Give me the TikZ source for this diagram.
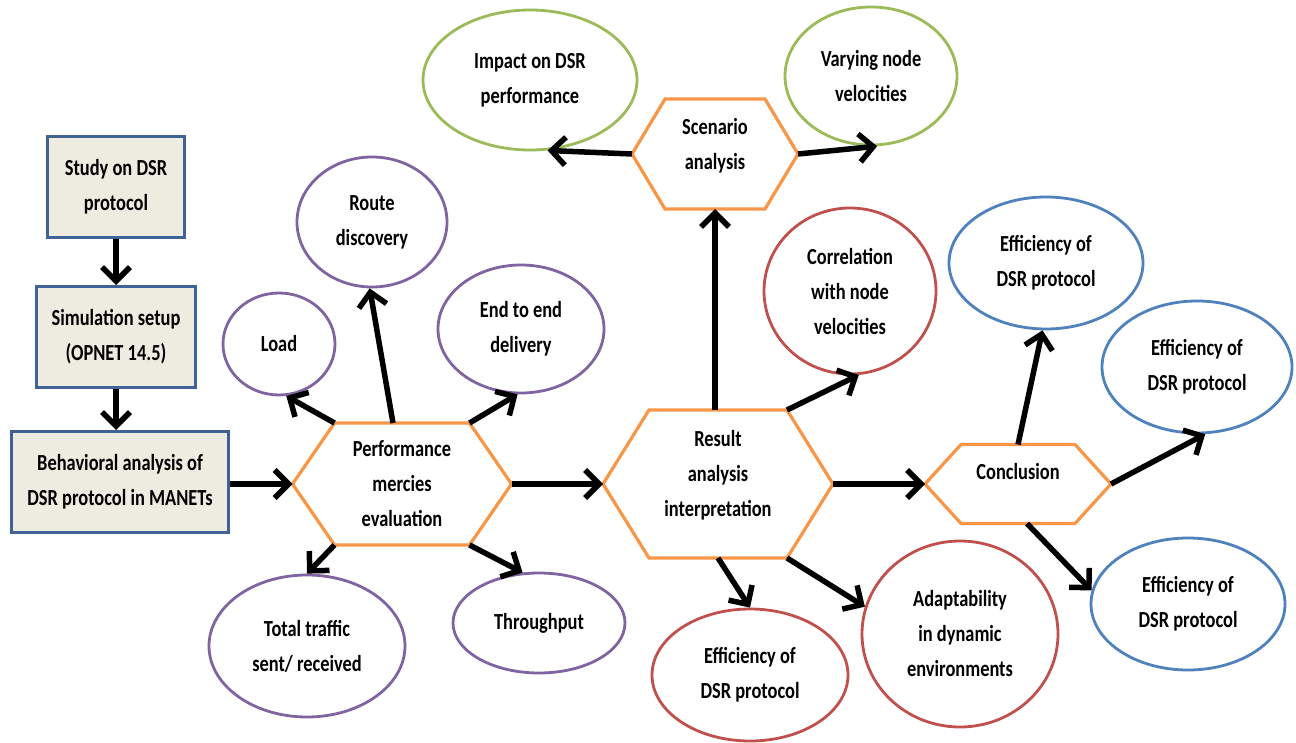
\documentclass[tikz,border=0pt]{standalone}
\usepackage{fontspec}
\setmainfont{Carlito}[FakeStretch=0.8]
\usepackage{tikz}
\usetikzlibrary{positioning,shapes.geometric,arrows.meta}

\definecolor{boxfill}{RGB}{238,236,225}
\definecolor{boxline}{RGB}{64,98,148}
\definecolor{hexorange}{RGB}{247,150,70}
\definecolor{cpurple}{RGB}{128,100,162}
\definecolor{cgreen}{RGB}{155,187,89}
\definecolor{cred}{RGB}{192,80,77}
\definecolor{cblue}{RGB}{79,129,189}

% hexagon round a named node: #1 node, #2 corner inset
\newcommand{\hexpath}[2]{\draw[hexline] (#1.west) -- ([xshift=#2]#1.north west) -- ([xshift=-#2]#1.north east) -- (#1.east) -- ([xshift=-#2]#1.south east) -- ([xshift=#2]#1.south west) -- cycle;}

\begin{document}
\begin{tikzpicture}[x=1pt, y=-1pt, font=\fontsize{23}{35}\selectfont\bfseries,
    box/.style = {rectangle, draw=boxline, fill=boxfill, line width=3pt, align=center, minimum height=101pt},
    hexa/.style = {rectangle, outer sep=0pt, inner sep=0pt, align=center},
    hexline/.style = {draw=hexorange, line width=3.2pt, line join=miter},
    bubble/.style = {ellipse, draw=#1, line width=2.8pt, align=center, inner sep=0pt},
    arr/.style = {-{Straight Barb[length=14pt,width=28pt]}, line width=5.5pt}]

    \path[use as bounding box, fill=white] (0,0) rectangle (1296,743);

    % left column
    \node[box, minimum width=137pt] (study) at (116,187) {Study on DSR\\protocol};
    \node[box, minimum width=159pt] (setup) [below=46pt of study] {Simulation setup\\(OPNET 14.5)};
    \node[box, minimum width=217pt] (behav) [below=41pt of setup, xshift=4pt] {Behavioral analysis of\\DSR protocol in MANETs};

    % hexagons
    \node[hexa, minimum width=219pt, minimum height=122pt] (perf) at (402,484) {Performance\\mercies\\evaluation};
    \hexpath{perf}{42pt}
    \node[hexa, minimum width=230pt, minimum height=148pt, label={[align=center, yshift=9pt]center:Result\\analysis\\interpretation}] (result) at (718,484) {};
    \hexpath{result}{46pt}
    \node[hexa, minimum width=166pt, minimum height=110pt, label={[align=center, yshift=8pt]center:Scenario\\analysis}] (scen) at (715,154) {};
    \hexpath{scen}{33pt}
    \node[hexa, minimum width=186pt, minimum height=79pt, label={[yshift=12pt]center:Conclusion}] (concl) at (1018,484) {};
    \hexpath{concl}{36pt}

    % metrics
    \node[bubble=cpurple, minimum width=112pt, minimum height=102pt] (load) at (279,344) {Load};
    \node[bubble=cpurple, minimum width=150pt, minimum height=130pt] (route) at (372,222) {Route\\discovery};
    \node[bubble=cpurple, minimum width=166pt, minimum height=128pt] (delay) at (521,329) {End to end\\delivery};
    \node[bubble=cpurple, minimum width=196pt, minimum height=142pt] (traffic) at (307,646) {Total traffic\\sent/ received};
    \node[bubble=cpurple, minimum width=172pt, minimum height=100pt] (thru) at (539,623) {Throughput};

    % scenario
    \node[bubble=cgreen, minimum width=214pt, minimum height=140pt] (impact) at (530,80) {Impact on DSR\\performance};
    \node[bubble=cgreen, minimum width=172pt, minimum height=138pt] (vary) at (871,76) {Varying node\\velocities};

    % results
    \node[bubble=cred, minimum width=172pt, minimum height=166pt] (corr) at (850,291) {Correlation\\with node\\velocities};
    \node[bubble=cred, minimum width=196pt, minimum height=132pt] (effr) at (750,675) {Efficiency of\\DSR protocol};
    \node[bubble=cred, minimum width=196pt, minimum height=186pt] (adapt) at (960,634) {Adaptability\\in dynamic\\environments};

    % conclusion
    \node[bubble=cblue, minimum width=194pt, minimum height=132pt] (effa) at (1046,263) {Efficiency of\\DSR protocol};
    \node[bubble=cblue, minimum width=190pt, minimum height=132pt] (effb) at (1197,367) {Efficiency of\\DSR protocol};
    \node[bubble=cblue, minimum width=194pt, minimum height=132pt] (effc) at (1188,604) {Efficiency of\\DSR protocol};

    % arrows
    \draw[arr] (study) -- (setup);
    \draw[arr] (setup.south) -- (setup.south |- behav.north);
    \draw[arr] (behav.east |- perf.west) -- (perf.west);
    \draw[arr] (perf.east) -- (result.west);
    \draw[arr] (result.east) -- (concl.west);

    \draw[arr] ([xshift=42pt]perf.north west) -- (load.278);
    \draw[arr] ([xshift=-9pt]perf.north) -- (route.268);
    \draw[arr] ([xshift=-42pt]perf.north east) -- (delay.267);
    \draw[arr] ([xshift=42pt]perf.south west) -- (traffic.90);
    \draw[arr] ([xshift=-42pt]perf.south east) -- (thru.108);

    \draw[arr] (scen.south |- result.north) -- (scen.south);
    \draw[arr] ([xshift=-46pt]result.north east) -- (corr.276);
    \draw[arr] (result.south) -- (effr.90);
    \draw[arr] ([xshift=-46pt]result.south east) -- (adapt.164);

    \draw[arr] (scen.west) -- (impact.284);
    \draw[arr] (scen.east) -- (vary.275);

    \draw[arr] (concl.north) -- (effa.267);
    \draw[arr] (concl.east) -- (effb.277);
    \draw[arr] ([xshift=9pt]concl.south) -- (effc.172);

\end{tikzpicture}
\end{document}
